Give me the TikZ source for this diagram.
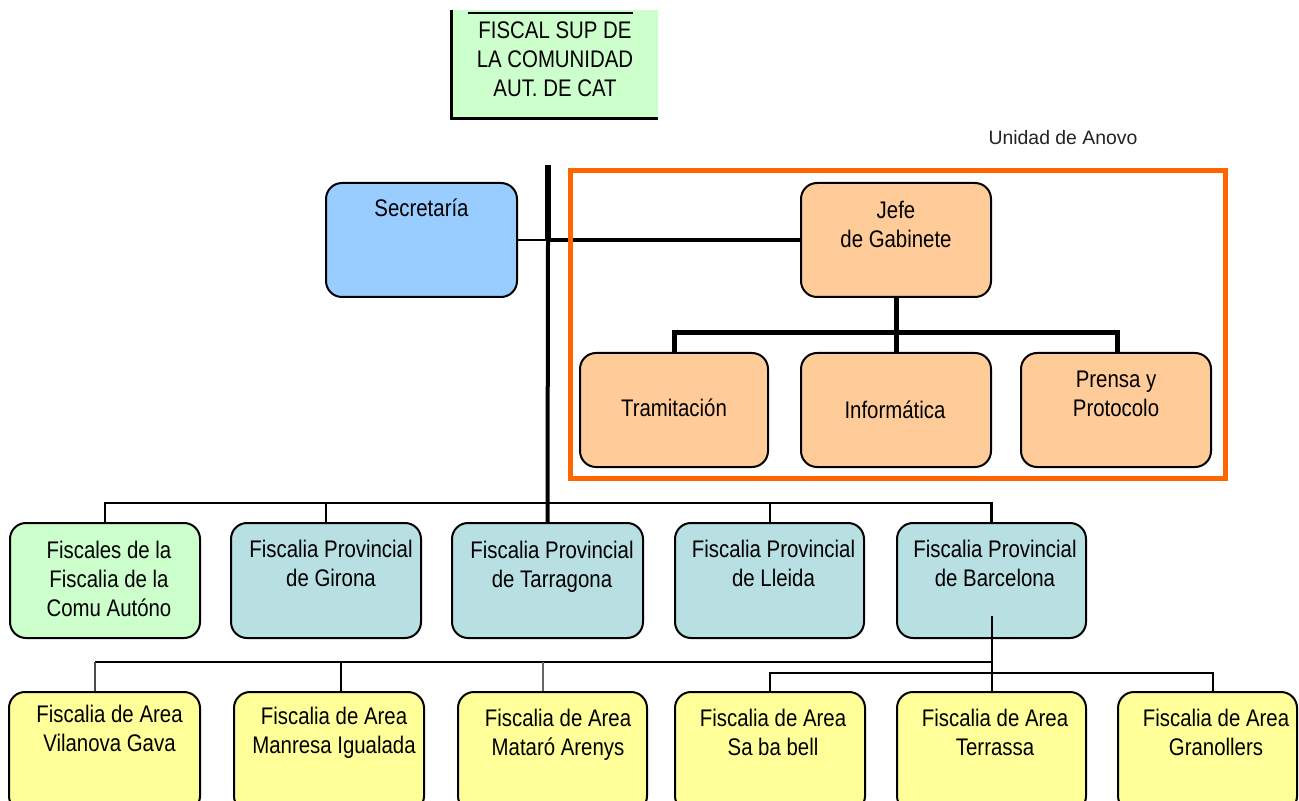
\documentclass[tikz,border=0pt]{standalone}
\usepackage{fontspec}
\setmainfont{Liberation Sans}
\newfontfamily\nf{Liberation Sans}[FakeStretch=0.85]
\usetikzlibrary{calc}
\definecolor{cgreen}{HTML}{CCFFCC}
\definecolor{cblue}{HTML}{99CCFF}
\definecolor{corange}{HTML}{FFCC99}
\definecolor{cteal}{HTML}{B8DFE2}
\definecolor{cyellow}{HTML}{FFFF99}
\definecolor{cframe}{HTML}{FF6600}
\definecolor{ctxt}{HTML}{222222}
\begin{document}
\begin{tikzpicture}[x=0.5pt,y=-0.5pt,
  box/.style={draw=black, line width=1pt, rounded corners=8pt, inner sep=0pt},
  r1/.style={box, minimum height=57pt},
  r2/.style={box, minimum height=57.5pt},
  r3/.style={box, minimum height=60pt, fill=cyellow},
  txt/.style={font={\nf\fontsize{12}{14.5}\selectfont}, align=center, inner sep=0pt},
  conn/.style={draw=black, line width=1pt},
  thick2/.style={draw=black, line width=2.5pt},
]
\useasboundingbox (0,0) rectangle (1299,801);
\clip (0,0) rectangle (1299,801);

% top box
\node[fill=cgreen, minimum width=103pt, minimum height=54pt, inner sep=0pt] (topbox) at (555,64) {};
\draw[line width=1.5pt] (topbox.north west) -- (topbox.south west) -- (topbox.south east);
\coordinate (tl1) at (468,13);
\coordinate (tl2) at (633,13);
\draw[line width=1pt] (tl1) -- (tl2);
\node[txt] (topT) at (555,59) {FISCAL SUP DE\\LA COMUNIDAD\\AUT. DE CAT};

% label
\node[font={\fontsize{9.7}{11}\selectfont}, text=ctxt, inner sep=0pt] (unidadT) at (1063,138) {Unidad de Anovo};

% upper boxes
\node[r1, fill=cblue, minimum width=95.5pt] (sec) at (421.5,240) {};
\node[r1, fill=corange, minimum width=95pt] (jefe) at (896,240) {};
\node[r1, fill=corange, minimum width=94pt] (tram) at (674,410) {};
\node[r1, fill=corange, minimum width=95pt] (info) at (896,410) {};
\node[r1, fill=corange, minimum width=95pt] (prensa) at (1116,410) {};

% row 2
\node[r2, fill=cgreen, minimum width=95pt] (fisc) at (105,580.5) {};
\node[r2, fill=cteal, minimum width=95pt] (gir) at (326,580.5) {};
\node[r2, fill=cteal, minimum width=95.5pt] (tarr) at (547.5,580.5) {};
\node[r2, fill=cteal, minimum width=94.5pt] (lle) at (769.5,580.5) {};
\node[r2, fill=cteal, minimum width=94.5pt] (bar) at (991.5,580.5) {};

% row 3
\node[r3, minimum width=95.5pt] (vil) at (104.5,752) {};
\node[r3, minimum width=95pt] (man) at (329,752) {};
\node[r3, minimum width=94.5pt] (mat) at (552.5,752) {};
\node[r3, minimum width=95pt] (sab) at (770,752) {};
\node[r3, minimum width=94.5pt] (ter) at (991.5,752) {};
\node[r3, minimum width=89.5pt] (gra) at (1207.5,752) {};

% texts
\node[txt] (secT) at (421.5,208) {Secretaría};
\node[txt] (jefeT) at (896,224) {Jefe\\de Gabinete};
\node[txt] (tramT) at (674,408) {Tramitación};
\node[txt] (infoT) at (895,410) {Informática};
\node[txt] (prensaT) at (1116,394) {Prensa y\\Protocolo};
\node[txt] (fiscT) at (109,579) {Fiscales de la\\Fiscalia de la\\Comu Autóno};
\node[txt] (girT) at (331,563.5) {Fiscalia Provincial\\de Girona};
\node[txt] (tarrT) at (552,567) {Fiscalia Provincial\\de Tarragona};
\node[txt] (lleT) at (773.5,563.5) {Fiscalia Provincial\\de Lleida};
\node[txt] (barT) at (995,563.5) {Fiscalia Provincial\\de Barcelona};
\node[txt] (vilT) at (109.5,728) {Fiscalia de Area\\Vilanova Gava};
\node[txt] (manT) at (334,733) {Fiscalia de Area\\Manresa Igualada};
\node[txt] (matT) at (558,735) {Fiscalia de Area\\Mataró Arenys};
\node[txt] (sabT) at (773,732) {Fiscalia de Area\\Sa ba bell};
\node[txt] (terT) at (995,732) {Fiscalia de Area\\Terrassa};
\node[txt] (graT) at (1216,732) {Fiscalia de Area\\Granollers};

% coordinates
\coordinate (mtop) at (548,165);
\coordinate (jn) at (548,240);
\coordinate (r2bar) at (548,503);
\coordinate (jbar) at (896,333);
\coordinate (r3l) at (95,662);
\coordinate (r3r) at (991.5,673);
\coordinate (mand) at (341,662);
\coordinate (matd) at (543,662);

% main trunk
\draw[draw=black, line width=3pt] (mtop) -- (jn);
\draw[draw=black, line width=2pt] (jn) -- (tarr.north);
\draw[draw=black, line width=1pt] (sec.east) -- (jn);
\draw[draw=black, line width=2pt] (jn) -- (jefe.west);

% gabinete tree
\draw[thick2] (jefe.south) -- (info.north);
\draw[thick2] (tram.north) |- (jbar) -| ([xshift=0.5pt]prensa.north);

% row 2 connectors
\draw[draw=black, line width=1.3pt] (fisc.north) |- (r2bar) -| (bar.north);
\draw[conn] (gir.north) -- (gir.north |- r2bar);
\draw[conn] (lle.north) -- (lle.north |- r2bar);

% barcelona down
\draw[conn] ([yshift=11.5pt]bar.south) -- (r3r);
\draw[draw=black, line width=1.2pt] (r3l) -- (r3l -| bar.south);
\draw[draw=black!70, line width=0.8pt] (r3l) -- ([xshift=-4.75pt]vil.north);
\draw[conn] (mand) -- ([xshift=6pt]man.north);
\draw[draw=black!60, line width=0.6pt] (matd) -- ([xshift=-4.75pt]mat.north);
\draw[conn] (sab.north) |- (r3r) -| ([xshift=2.75pt]gra.north);
\draw[conn] (r3r) -- (ter.north);

% orange frame
\node[draw=cframe, line width=2.5pt, minimum width=327.5pt, minimum height=154pt, inner sep=0pt] (frame) at (898,324.5) {};
\end{tikzpicture}
\end{document}
